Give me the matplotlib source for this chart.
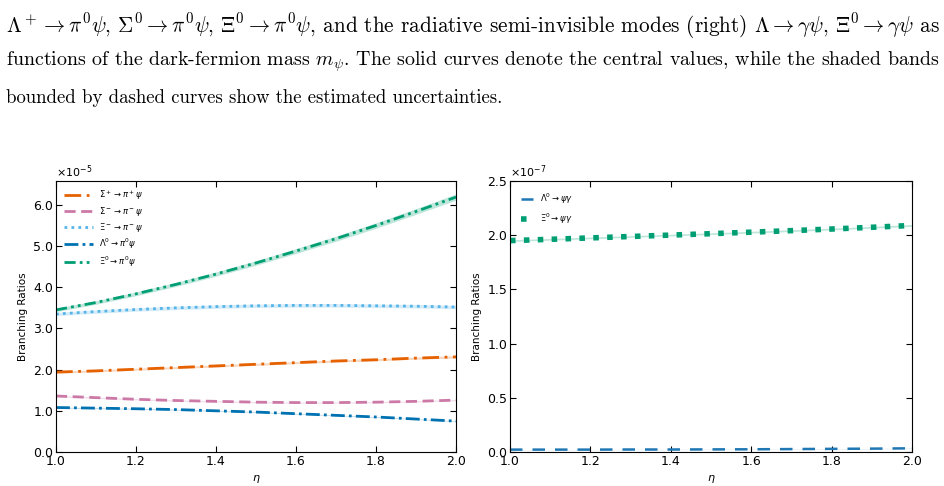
import matplotlib
matplotlib.use('Agg')
import matplotlib.pyplot as plt
from matplotlib.ticker import ScalarFormatter, MultipleLocator

eta = [1.0, 1.1, 1.2, 1.3, 1.4, 1.5, 1.6, 1.7, 1.8, 1.9, 2.0]

# left panel, units of 1e-5
sigp_pip = [1.94, 1.97, 2.01, 2.05, 2.09, 2.13, 2.17, 2.21, 2.24, 2.28, 2.31]
sigm_pim = [1.36, 1.32, 1.28, 1.25, 1.23, 1.21, 1.20, 1.20, 1.21, 1.23, 1.26]
xim_pim = [3.35, 3.41, 3.46, 3.50, 3.53, 3.55, 3.56, 3.56, 3.55, 3.54, 3.52]
lam_pi0 = [1.08, 1.065, 1.05, 1.03, 1.00, 0.97, 0.93, 0.89, 0.85, 0.80, 0.75]
xi0_pi0 = [3.45, 3.63, 3.84, 4.07, 4.32, 4.59, 4.88, 5.18, 5.50, 5.84, 6.19]

# right panel, units of 1e-7
lam_gam = [0.022, 0.022, 0.022, 0.023, 0.023, 0.024, 0.025, 0.027, 0.029, 0.031, 0.034]
xi0_gam = [1.950, 1.962, 1.975, 1.988, 2.001, 2.014, 2.028, 2.042, 2.057, 2.073, 2.090]


class OneDecimal(ScalarFormatter):
    def _set_format(self):
        self.format = '%1.1f'


def style_axes(ax):
    ax.tick_params(direction='in', top=True, right=True, labelsize=9, length=4, pad=2)
    ax.set_xlim(1.0, 2.0)
    ax.xaxis.set_major_locator(MultipleLocator(0.2))
    ax.xaxis.set_major_formatter(plt.FormatStrFormatter('%.1f'))
    fmt = OneDecimal(useMathText=True)
    fmt.set_powerlimits((0, 0))
    ax.yaxis.set_major_formatter(fmt)
    ax.yaxis.get_offset_text().set_fontsize(8)
    ax.set_xlabel(r'$\eta$', fontsize=8)
    ax.set_ylabel('Branching Ratios', fontsize=7.5)


def band(ax, y, scale, color, rel=0.012):
    lo = [v * (1 - rel) * scale for v in y]
    hi = [v * (1 + rel) * scale for v in y]
    ax.fill_between(eta, lo, hi, color=color, alpha=0.25, lw=0)


figure = plt.figure(figsize=(9.44, 4.86), dpi=100)

caption = [
    r'$\Lambda^+ \to \pi^0\psi$, $\Sigma^0 \to \pi^0\psi$, $\Xi^0 \to \pi^0\psi$, and the radiative semi-invisible modes (right) $\Lambda \to \gamma\psi$, $\Xi^0 \to \gamma\psi$ as',
    r'functions of the dark-fermion mass $m_\psi$. The solid curves denote the central values, while the shaded bands',
    'bounded by dashed curves show the estimated uncertainties.',
]
# line widths in the page (px)
widths = [934, 934, 500]
renderer = figure.canvas.get_renderer()
for i, line in enumerate(caption):
    t = figure.text(6 / 944, 1 - (26 + 36 * i) / 486, line, fontsize=15, family='cmr10',
                    math_fontfamily='cm', va='center', ha='left')
    w = t.get_window_extent(renderer).width
    t.set_fontsize(15 * widths[i] / w)

# left
ax1 = figure.add_axes([56 / 944, 34 / 486, 400 / 944, 271 / 486])
s = 1e-5
series = [
    (sigp_pip, '#E66100', (0, (6, 2, 1, 2)), r'$\Sigma^+\to\pi^+\psi$'),
    (sigm_pim, '#CC79A7', (0, (4, 2)), r'$\Sigma^-\to\pi^-\psi$'),
    (xim_pim, '#56B4E9', (0, (1, 1.5)), r'$\Xi^-\to\pi^-\psi$'),
    (lam_pi0, '#0072B2', (0, (5, 1.5, 1, 1.5)), r'$\Lambda^0\to\pi^0\psi$'),
    (xi0_pi0, '#009E73', (0, (4, 1.5, 1, 1.5, 1, 1.5)), r'$\Xi^0\to\pi^0\psi$'),
]
for y, c, ls, lab in series:
    band(ax1, y, s, c)
    ax1.plot(eta, [v * s for v in y], color=c, linestyle=ls, lw=2, label=lab)
ax1.set_ylim(0, 6.58e-5)
style_axes(ax1)
ax1.legend(loc='upper left', frameon=False, fontsize=6, handlelength=3.5, labelspacing=0.35)

# right
ax2 = figure.add_axes([510 / 944, 34 / 486, 402 / 944, 271 / 486])
s = 1e-7
band(ax2, lam_gam, s, '#1f77b4', rel=0.05)
ax2.plot(eta, [v * s for v in lam_gam], color='#1f77b4', linestyle=(0, (5, 4)), lw=1.8, label=r'$\Lambda^0\to\psi\gamma$')
band(ax2, xi0_gam, s, '#009E73', rel=0.004)
ax2.plot(eta, [v * s for v in xi0_gam], color='#009E73', linestyle=(0, (1, 1.5)), lw=4, label=r'$\Xi^0\to\psi\gamma$')
ax2.set_ylim(0, 2.5e-7)
ax2.yaxis.set_major_locator(MultipleLocator(0.5e-7))
style_axes(ax2)
ax2.legend(loc='upper left', frameon=False, fontsize=6, handlelength=1.5, labelspacing=0.6, borderpad=0.8)

figure.savefig('out.png', dpi=100)
